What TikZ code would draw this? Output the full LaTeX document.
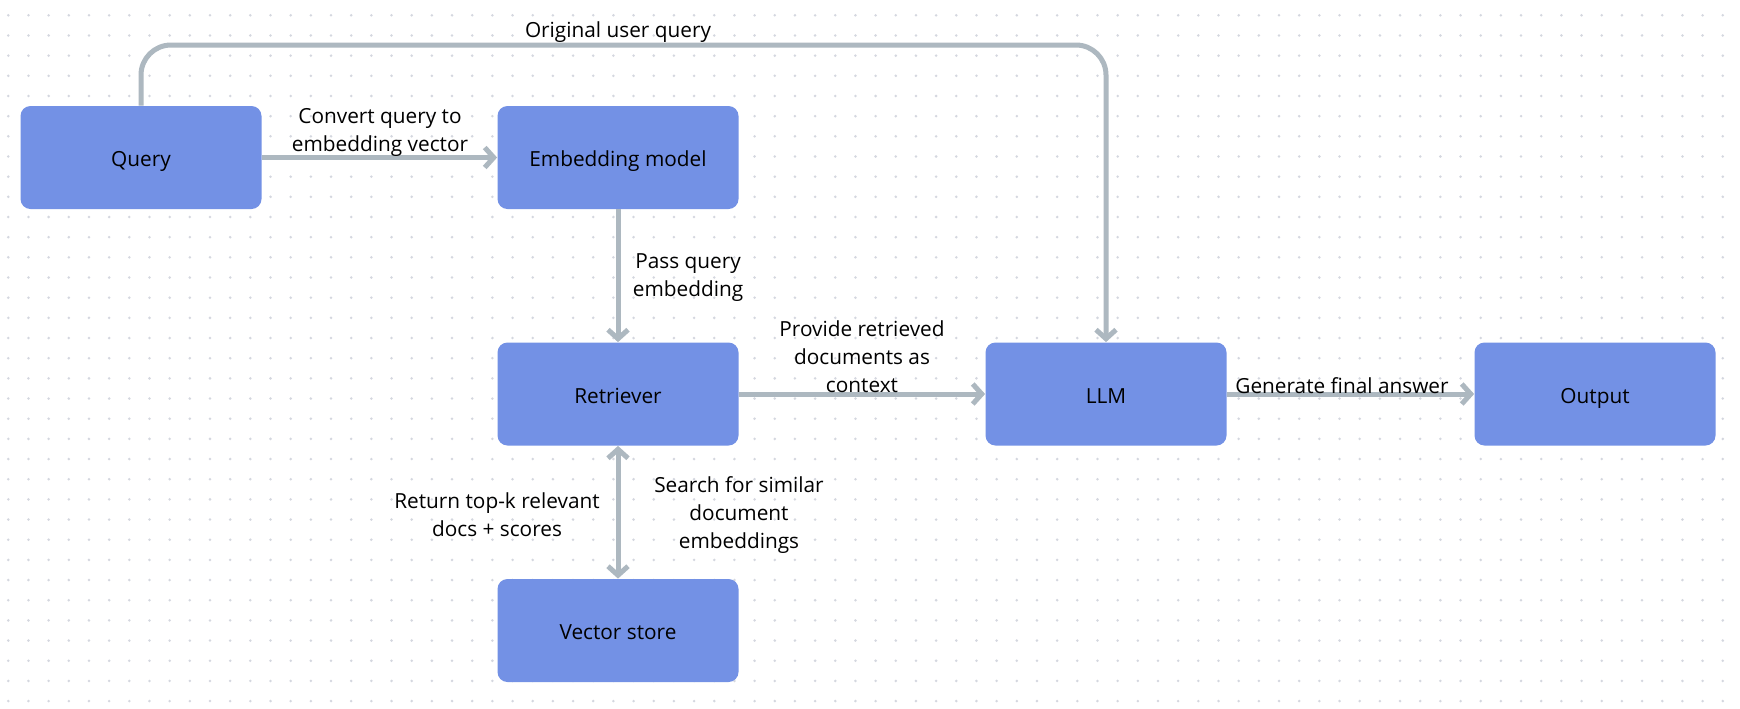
\documentclass[tikz,border=0pt]{standalone}
\usepackage{fontspec}
\setmainfont{Open Sans}
\usetikzlibrary{arrows.meta}
\definecolor{boxblue}{HTML}{7391E5}
\definecolor{linegray}{HTML}{ADB8C0}
\definecolor{dotgray}{HTML}{D4D7DF}
\begin{document}
\begin{tikzpicture}[x=0.5pt,y=-0.5pt,
  block/.style={rectangle,rounded corners=5pt,fill=boxblue,minimum width=120.5pt,minimum height=51.5pt,text height=9pt,text depth=0pt,font=\fontsize{10.4}{14}\selectfont},
  lbl/.style={align=center,inner sep=0pt,font=\fontsize{10.4}{14}\selectfont},
  flow/.style={line width=2.5pt,draw=linegray,-{Straight Barb[length=4.5pt,width=10pt]}}]
\useasboundingbox (0,0) rectangle (1740,708);
\fill[white] (0,0) rectangle (1740,708);
\foreach \i in {0,...,85}
  \foreach \j in {0,...,34}
    \fill[dotgray] (8.3+20.17*\i,15.3+20.17*\j) circle (0.7pt);
\node[block] at (141,157.5) (query) {Query};
\node[block] at (618,157.5) (embed) {Embedding model};
\node[block] at (618,394) (retr) {Retriever};
\node[block] at (618,630.5) (vstore) {Vector store};
\node[block] at (1106,394) (llm) {LLM};
\node[block] at (1595,394) (out) {Output};
\coordinate (bend) at (618,45);
\draw[flow,rounded corners=15pt] (query.north) |- (bend) -| (llm.north);
\draw[flow] (query) -- (embed);
\draw[flow] (embed) -- (retr);
\draw[flow] (retr) -- (llm);
\draw[flow] (llm) -- (out);
\draw[flow,{Straight Barb[length=4.5pt,width=10pt]}-{Straight Barb[length=4.5pt,width=10pt]}] (retr) -- (vstore);
\node[lbl] at (618,32) (lorig) {Original user query};
\node[lbl] at (380,132) (lconv) {Convert query to\\embedding vector};
\node[lbl] at (688,278) (lpass) {Pass query\\embedding};
\node[lbl] at (862,357) (lprov) {Provide retrieved\\documents as\\context};
\node[lbl] at (1342,386) (lgen) {Generate final answer};
\node[lbl] at (497,515) (lret) {Return top-k relevant\\docs + scores};
\node[lbl] at (739,515) (lsearch) {Search for similar\\document\\embeddings};
\end{tikzpicture}
\end{document}
